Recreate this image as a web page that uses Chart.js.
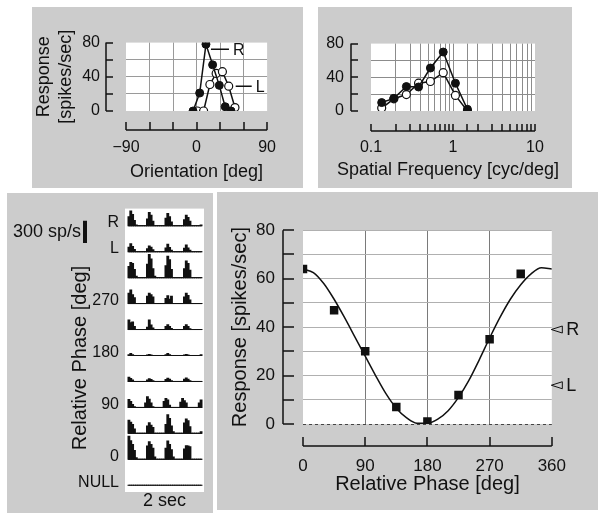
<!DOCTYPE html>
<html>
<head>
<meta charset="utf-8">
<script src="https://cdn.jsdelivr.net/npm/chart.js@4.4.0/dist/chart.umd.min.js"></script>
<style>
  body { margin: 0; background: #fff; width: 604px; height: 520px; position: relative; overflow: hidden; }
  .panel { position: absolute; background: #cccccc; }
  .panel canvas { position: absolute; left: 0; top: 0; }
</style>
</head>
<body>
<div class="panel" style="left:32px;top:7px;width:271px;height:181px"><canvas id="c1" width="271" height="181"></canvas></div>
<div class="panel" style="left:318px;top:7px;width:254px;height:181px"><canvas id="c2" width="254" height="181"></canvas></div>
<div class="panel" style="left:7px;top:193px;width:206px;height:320px"><canvas id="c3" width="206" height="320"></canvas></div>
<div class="panel" style="left:217px;top:192px;width:381px;height:318px"><canvas id="c4" width="381" height="318"></canvas></div>
<script>
// orientation tuning (deg, spikes/sec)
var oriR = [-4.5, 4, 12, 20.5, 29, 36.5, 44];
var respOriR = [0, 21, 78, 54, 30, 5, 0];
var oriL = [1, 9, 17, 25, 33, 41, 49];
var respOriL = [0, 0, 31, 44, 46, 29, 4];

// spatial frequency tuning (cyc/deg, spikes/sec)
var sf = [0.135, 0.19, 0.27, 0.38, 0.53, 0.76, 1.07, 1.5];
var respSfR = [10, 15, 29, 28.5, 51, 70, 33, 2];
var respSfL = [3.5, 14.5, 19.5, 33, 35, 45.5, 18.5, 0];

// PSTH rows, 40 bins of 50 ms (sp/s)
var psthRows = ['R', 'L', '315', '270', '225', '180', '135', '90', '45', '0', 'NULL'];
var psthTickLabels = ['R', 'L', '', '270', '', '180', '', '90', '', '0', 'NULL'];
var psthR = [120,200,150,70,10,0,0,0,0,0, 90,178,140,60,0,0,0,0,0,0, 100,165,120,50,0,0,0,0,0,0, 80,143,110,60,0,0,0,0,0,10];
var psthL = [60,108,70,30,0,0,0,0,0,0, 40,78,60,25,0,0,0,0,0,0, 50,100,55,20,0,0,0,0,0,0, 45,91,50,20,0,0,0,0,0,0];
var psth315 = [150,204,190,110,20,0,0,0,0,0, 180,312,250,120,20,0,0,0,0,0, 160,290,240,110,0,0,0,0,0,0, 120,226,190,100,0,0,0,0,0,0];
var psth270 = [140,182,120,80,0,0,0,0,0,0, 100,139,120,90,0,0,0,0,0,0, 70,104,60,100,0,0,0,0,0,0, 90,139,110,50,0,0,0,0,0,0];
var psth225 = [130,90,100,40,0,0,0,0,0,0, 30,130,60,20,0,0,0,0,0,0, 40,65,40,15,0,0,0,0,0,0, 40,65,40,10,0,0,0,0,0,0];
var psth180 = [10,26,10,0,0,0,0,0,0,0, 5,13,5,0,0,0,0,0,0,0, 10,26,10,0,0,0,0,0,0,0, 5,13,5,0,0,0,0,0,0,10];
var psth135 = [56,40,20,0,0,0,0,0,0,0, 20,35,25,10,0,0,0,0,0,0, 25,43,30,10,0,0,0,0,0,0, 30,48,30,10,0,0,0,0,0,0];
var psth90 = [108,80,40,10,0,0,0,0,0,60, 143,110,60,10,0,0,0,0,0,80, 121,100,30,0,0,0,0,0,70,121, 90,60,0,0,0,0,0,0,60,100];
var psth45 = [178,150,120,60,0,0,0,0,0,0, 100,143,110,80,0,0,0,0,0,0, 120,252,200,100,20,0,0,0,0,0, 140,195,170,90,0,0,0,0,0,20];
var psth0 = [312,250,200,120,20,0,0,0,0,0, 180,238,200,150,30,0,0,0,0,0, 150,247,200,130,30,0,0,0,0,0, 140,182,180,170,0,0,0,0,0,0];
var psthNull = [0,0,0,0,0,0,0,0,0,0, 0,0,0,0,0,0,0,0,0,0, 0,0,0,0,0,0,0,0,0,0, 0,0,0,0,0,0,0,0,0,0];
var scaleBarRate = 300;

// binocular phase tuning
var phase = [0, 45, 90, 135, 180, 225, 270, 315];
var respPhase = [64, 47, 30, 7, 1, 12, 35, 62];
var fitPhase = [0, 15, 30, 45, 60, 75, 90, 105, 120, 135, 150, 165, 180, 195, 210, 225, 240, 255, 270, 285, 300, 315, 330, 345, 360];
var fitResp = [64, 62.5, 58, 51.5, 44, 36, 28, 20, 12.5, 6.5, 2.5, 0.3, 0.3, 2, 5.5, 11, 18, 26.5, 35.5, 44, 51.5, 57.5, 62, 64.5, 64];
var monoLabels = ['R', 'L'];
var monoResp = [39, 16];

var FONT = '"Liberation Sans", Arial, Helvetica, sans-serif';
Chart.defaults.font.family = FONT;
Chart.defaults.color = '#111';
Chart.defaults.animation = false;
Chart.defaults.plugins.legend.display = false;
Chart.defaults.plugins.tooltip.enabled = false;

var INK = '#111';
var CLEAR = 'rgba(0,0,0,0)';

function pts(xs, ys) {
    return xs.map(function(x, i) { return {x: x, y: ys[i]}; });
}

// white plot background
var whiteArea = {
    id: 'whiteArea',
    beforeDraw: function(chart) {
        var a = chart.chartArea;
        chart.ctx.save();
        chart.ctx.fillStyle = '#fff';
        chart.ctx.fillRect(a.left, a.top, a.right - a.left, a.bottom - a.top);
        chart.ctx.restore();
    }
};

// axes drawn away from the plot, ticks pointing inward
var detachedAxes = {
    id: 'detachedAxes',
    afterDraw: function(chart, args, o) {
        var ctx = chart.ctx, a = chart.chartArea;
        var xs = chart.scales.x, ys = chart.scales.y;
        ctx.save();
        ctx.strokeStyle = INK;
        ctx.lineWidth = 1.5;
        ctx.beginPath();
        var ax = Math.round(a.left - o.yGap);
        ctx.moveTo(ax, a.top); ctx.lineTo(ax, a.bottom);
        ys.ticks.forEach(function(t) {
            var py = Math.round(ys.getPixelForValue(t.value));
            ctx.moveTo(ax, py); ctx.lineTo(ax + o.yTick, py);
        });
        var ay = Math.round(a.bottom + o.xGap);
        ctx.moveTo(a.left, ay); ctx.lineTo(a.right, ay);
        xs.ticks.forEach(function(t) {
            var px = Math.round(xs.getPixelForValue(t.value));
            ctx.moveTo(px, ay); ctx.lineTo(px, ay - o.xTick);
        });
        ctx.stroke();
        // long axis title that must not be squeezed to the plot width
        if (o.xTitle) {
            ctx.fillStyle = INK;
            ctx.font = o.xTitleSize + 'px ' + FONT;
            ctx.textAlign = 'center';
            ctx.textBaseline = 'middle';
            ctx.fillText(o.xTitle, (a.left + a.right) / 2 + o.xTitleShift, o.xTitleY);
        }
        ctx.restore();
    }
};

function edgeColor(lo, hi, col) {
    return function(c) {
        if (!c.tick) return col;
        var v = c.tick.value;
        return (Math.abs(v - lo) < 1e-9 || Math.abs(v - hi) < 1e-9) ? CLEAR : col;
    };
}

// ---- top left: orientation
var rlLabels = {
    id: 'rlLabels',
    afterDatasetsDraw: function(chart) {
        var ctx = chart.ctx;
        var pR = chart.getDatasetMeta(0).data[2];
        var pL = chart.getDatasetMeta(1).data[5];
        ctx.save();
        ctx.strokeStyle = INK;
        ctx.lineWidth = 1.5;
        ctx.beginPath();
        ctx.moveTo(pR.x + 5, pR.y + 5); ctx.lineTo(pR.x + 23, pR.y + 5);
        ctx.moveTo(pL.x + 7, pL.y); ctx.lineTo(pL.x + 23, pL.y);
        ctx.stroke();
        ctx.fillStyle = INK;
        ctx.font = '16px ' + FONT;
        ctx.textBaseline = 'middle';
        ctx.fillText('R', pR.x + 27, pR.y + 6);
        ctx.fillText('L', pL.x + 27, pL.y + 1);
        ctx.restore();
    }
};

new Chart(document.getElementById('c1'), {
    type: 'scatter',
    data: {
        datasets: [
            { data: pts(oriR, respOriR), showLine: true, borderColor: INK, borderWidth: 1.5,
              pointRadius: 4, pointBackgroundColor: INK, pointBorderColor: INK, pointBorderWidth: 1 },
            { data: pts(oriL, respOriL), showLine: true, borderColor: INK, borderWidth: 1.5,
              pointRadius: 4, pointBackgroundColor: '#fff', pointBorderColor: INK, pointBorderWidth: 1.2 }
        ]
    },
    options: {
        responsive: false,
        layout: { padding: { top: 20, right: 12, left: 0, bottom: 0 } },
        plugins: { detachedAxes: { yGap: 20, yTick: 7, xGap: 19, xTick: 8 } },
        scales: {
            x: {
                type: 'linear', min: -90, max: 90,
                ticks: { stepSize: 30, autoSkip: false, maxRotation: 0, padding: 27, font: { size: 16 },
                    callback: function(v) { return v === 0 ? '0' : (v === 90 ? '90' : (v === -90 ? '\u221290' : '')); } },
                grid: { drawTicks: false, color: edgeColor(-90, 90, '#9a9a9a') },
                border: { display: false },
                title: { display: true, text: 'Orientation [deg]', font: { size: 18 }, padding: { top: 0, bottom: 5 } },
                afterFit: function(s) { s.height = 77; }
            },
            y: {
                min: 0, max: 80,
                ticks: { stepSize: 20, autoSkip: false, padding: 26, font: { size: 16 },
                    callback: function(v) { return v % 40 === 0 ? String(v) : ''; } },
                grid: { drawTicks: false, color: edgeColor(0, 80, '#9a9a9a') },
                border: { display: false },
                title: { display: true, text: ['Response', '[spikes/sec]'], font: { size: 18, lineHeight: 1.17 }, padding: { top: 2, bottom: 0 } },
                afterFit: function(s) { s.width = 94; }
            }
        }
    },
    plugins: [whiteArea, detachedAxes, rlLabels]
});

// ---- top right: spatial frequency
function isDecade(v) {
    var l = Math.log10(v);
    return Math.abs(l - Math.round(l)) < 1e-6;
}

new Chart(document.getElementById('c2'), {
    type: 'scatter',
    data: {
        datasets: [
            { data: pts(sf, respSfR), showLine: true, borderColor: INK, borderWidth: 1.5,
              pointRadius: 4, pointBackgroundColor: INK, pointBorderColor: INK, pointBorderWidth: 1 },
            { data: pts(sf, respSfL), showLine: true, borderColor: INK, borderWidth: 1.5,
              pointRadius: 4, pointBackgroundColor: '#fff', pointBorderColor: INK, pointBorderWidth: 1.2 }
        ]
    },
    options: {
        responsive: false,
        layout: { padding: { top: 20, right: 37, left: 0, bottom: 0 } },
        plugins: { detachedAxes: { yGap: 20, yTick: 7, xGap: 20, xTick: 7,
            xTitle: 'Spatial Frequency [cyc/deg]', xTitleSize: 18, xTitleShift: -5, xTitleY: 163 } },
        scales: {
            x: {
                type: 'logarithmic', min: 0.1, max: 10,
                ticks: { autoSkip: false, maxRotation: 0, padding: 27, font: { size: 16 },
                    callback: function(v) { return isDecade(v) ? String(Math.round(v * 10) / 10) : ''; } },
                grid: { drawTicks: false, color: edgeColor(0.1, 10, '#8c8c8c') },
                border: { display: false },
                afterFit: function(s) { s.height = 77; }
            },
            y: {
                min: 0, max: 80,
                ticks: { stepSize: 20, autoSkip: false, padding: 27, font: { size: 16 },
                    callback: function(v) { return v % 40 === 0 ? String(v) : ''; } },
                grid: { drawTicks: false, color: edgeColor(0, 80, '#8c8c8c') },
                border: { display: false },
                afterFit: function(s) { s.width = 53; }
            }
        }
    },
    plugins: [whiteArea, detachedAxes]
});

// ---- bottom left: PSTHs
var psthData = [psthR, psthL, psth315, psth270, psth225, psth180, psth135, psth90, psth45, psth0, psthNull];
var nBins = psthR.length;
var rowStep = 350;
var rowBases = psthRows.map(function(r, i) { return (psthRows.length - 1 - i) * rowStep; });
var psthSets = [];
psthData.forEach(function(row, i) {
    psthSets.push({
        type: 'bar', base: rowBases[i], grouped: false,
        data: row.map(function(v, j) { return {x: j, y: rowBases[i] + v}; }),
        backgroundColor: INK, borderWidth: 0, barPercentage: 1, categoryPercentage: 1, inflateAmount: 0.5
    });
    psthSets.push({
        type: 'line', data: [{x: -0.5, y: rowBases[i]}, {x: nBins - 0.5, y: rowBases[i]}],
        borderColor: psthRows[i] === 'NULL' ? '#8a8a8a' : INK, borderWidth: 1, pointRadius: 0
    });
});

var psthText = {
    id: 'psthText',
    afterDraw: function(chart) {
        var ctx = chart.ctx, ys = chart.scales.y;
        var barH = ys.getPixelForValue(0) - ys.getPixelForValue(scaleBarRate);
        ctx.save();
        ctx.fillStyle = INK;
        ctx.fillRect(76, 50 - barH, 4, barH);
        ctx.font = '18px ' + FONT;
        ctx.textBaseline = 'middle';
        ctx.fillText(scaleBarRate + ' sp/s', 6, 39);
        ctx.translate(73, 165);
        ctx.rotate(-Math.PI / 2);
        ctx.textAlign = 'center';
        ctx.font = '20px ' + FONT;
        ctx.fillText('Relative Phase [deg]', 0, 0);
        ctx.restore();
    }
};

new Chart(document.getElementById('c3'), {
    type: 'bar',
    data: { datasets: psthSets },
    options: {
        responsive: false,
        layout: { padding: { top: 6, right: 9, left: 0, bottom: 0 } },
        scales: {
            x: {
                type: 'linear', offset: false, min: -2.12, max: nBins + 0.58,
                ticks: { display: false },
                grid: { display: false, drawTicks: false, offset: false },
                border: { display: false },
                title: { display: true, text: '2 sec', font: { size: 18 }, padding: { top: 0, bottom: 1 } },
                afterFit: function(s) { s.height = 21; }
            },
            y: {
                min: -91, max: 3731,
                afterBuildTicks: function(s) { s.ticks = rowBases.map(function(v) { return {value: v}; }); },
                ticks: { autoSkip: false, padding: 6, labelOffset: -3, font: { size: 16 },
                    callback: function(v, i) { return psthTickLabels[i]; } },
                grid: { display: false, drawTicks: false },
                border: { display: false },
                afterFit: function(s) { s.width = 118; }
            }
        }
    },
    plugins: [whiteArea, psthText]
});

// ---- bottom right: phase tuning
var monoMarks = {
    id: 'monoMarks',
    afterDraw: function(chart) {
        var ctx = chart.ctx, a = chart.chartArea, ys = chart.scales.y;
        ctx.save();
        ctx.strokeStyle = INK;
        ctx.lineWidth = 1;
        ctx.fillStyle = INK;
        ctx.font = '18px ' + FONT;
        ctx.textBaseline = 'middle';
        monoResp.forEach(function(v, i) {
            var py = ys.getPixelForValue(v);
            var x0 = a.right - 0.5;
            ctx.beginPath();
            ctx.moveTo(x0, py);
            ctx.lineTo(x0 + 11, py - 3.5);
            ctx.lineTo(x0 + 11, py + 3.5);
            ctx.closePath();
            ctx.stroke();
            ctx.fillText(monoLabels[i], x0 + 15, py + 1);
        });
        ctx.restore();
    }
};

new Chart(document.getElementById('c4'), {
    type: 'scatter',
    data: {
        datasets: [
            { data: pts(phase, respPhase), pointStyle: 'rect', pointRadius: 6,
              pointBackgroundColor: INK, pointBorderColor: INK, pointBorderWidth: 0 },
            { data: pts(fitPhase, fitResp), showLine: true, cubicInterpolationMode: 'monotone',
              borderColor: INK, borderWidth: 1.5, pointRadius: 0 }
        ]
    },
    options: {
        responsive: false,
        layout: { padding: { top: 12, right: 39, left: 0, bottom: 0 } },
        plugins: { detachedAxes: { yGap: 20, yTick: 11, xGap: 22, xTick: 9 } },
        scales: {
            x: {
                type: 'linear', min: 0, max: 360,
                ticks: { stepSize: 90, autoSkip: false, maxRotation: 0, padding: 32, font: { size: 17 } },
                grid: { drawTicks: false, color: edgeColor(0, 360, '#7a7a7a') },
                border: { display: false },
                title: { display: true, text: 'Relative Phase [deg]', font: { size: 20 }, padding: { top: 0, bottom: 14 } },
                afterFit: function(s) { s.height = 86; }
            },
            y: {
                min: 0, max: 80,
                ticks: { stepSize: 10, autoSkip: false, padding: 28, font: { size: 17 },
                    callback: function(v) { return v % 20 === 0 ? String(v) : ''; } },
                grid: { drawTicks: false,
                    color: function(c) { return c.tick && c.tick.value === 0 ? '#444' : '#b0b0b0'; } },
                border: { display: false,
                    dash: function(c) { return c.tick && c.tick.value === 0 ? [3, 3] : []; } },
                title: { display: true, text: 'Response [spikes/sec]', font: { size: 20 }, padding: { top: 11, bottom: 0 } },
                afterFit: function(s) { s.width = 86; }
            }
        }
    },
    plugins: [whiteArea, detachedAxes, monoMarks]
});
</script>
</body>
</html>
